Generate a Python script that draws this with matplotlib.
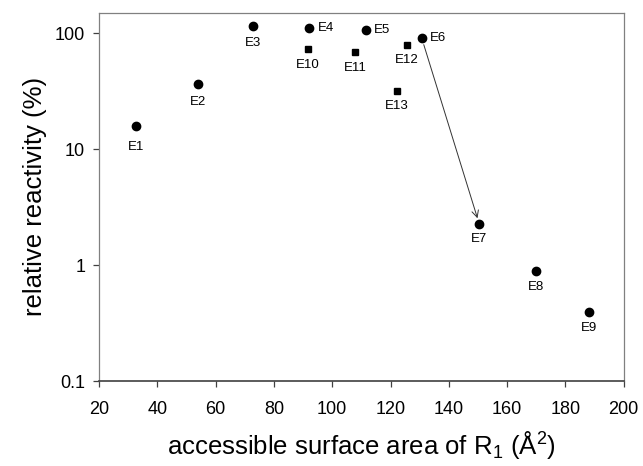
import matplotlib
matplotlib.use("Agg")
import matplotlib.pyplot as plt
from matplotlib.ticker import FixedLocator, FixedFormatter, NullLocator

plt.rcParams['font.family'] = ['Liberation Sans', 'DejaVu Sans']
plt.rcParams['mathtext.fontset'] = 'custom'
plt.rcParams['mathtext.rm'] = 'Liberation Sans'
plt.rcParams['mathtext.it'] = 'Liberation Sans'

circle_labels = ["E1", "E2", "E3", "E4", "E5", "E6", "E7", "E8", "E9"]
circle_x = [32.6, 53.8, 72.8, 92.1, 111.5, 130.7, 150.4, 169.9, 188.0]
circle_y = [15.8, 36.5, 115, 110, 107, 90.6, 2.28, 0.89, 0.395]

square_labels = ["E10", "E11", "E12", "E13"]
square_x = [91.6, 107.8, 125.6, 122.1]
square_y = [72.8, 68.5, 79.6, 31.9]

right_labels = {"E4", "E5", "E6"}
below_offset = {"E1": 11, "E2": 9, "E3": 8}

x_ticks = [20, 40, 60, 80, 100, 120, 140, 160, 180, 200]
y_ticks = [0.1, 1, 10, 100]
y_ticklabels = ["0.1", "1", "10", "100"]

fig = plt.figure(figsize=(6.43, 4.66), dpi=100)
ax = fig.add_axes([0.154, 0.182, 0.816, 0.791])

ax.plot(circle_x, circle_y, 'o', color='black', markersize=6, linestyle='none')
ax.plot(square_x, square_y, 's', color='black', markersize=5, linestyle='none')

def label(name, x, y):
    if name in right_labels:
        ax.annotate(name, (x, y), xytext=(6, 0), textcoords='offset points',
                    ha='left', va='center', fontsize=9.5)
    else:
        off = below_offset.get(name, 7)
        ax.annotate(name, (x, y), xytext=(0, -off), textcoords='offset points',
                    ha='center', va='top', fontsize=9.5)

for n, x, y in zip(circle_labels, circle_x, circle_y):
    label(n, x, y)
for n, x, y in zip(square_labels, square_x, square_y):
    label(n, x, y)

# arrow from E6 to E7
i6 = circle_labels.index("E6")
i7 = circle_labels.index("E7")
ax.annotate("", xy=(circle_x[i7], circle_y[i7]), xytext=(circle_x[i6], circle_y[i6]),
            arrowprops=dict(arrowstyle='->', color='#333333', lw=0.7,
                            shrinkA=5, shrinkB=4, mutation_scale=12))

ax.set_yscale('log')
ax.set_xlim(20, 200)
ax.set_ylim(0.1, 150)
ax.xaxis.set_major_locator(FixedLocator(x_ticks))
ax.yaxis.set_major_locator(FixedLocator(y_ticks))
ax.yaxis.set_major_formatter(FixedFormatter(y_ticklabels))
ax.yaxis.set_minor_locator(NullLocator())

for s in ax.spines.values():
    s.set_color('#808080')
    s.set_linewidth(0.9)
ax.spines['bottom'].set_color('#404040')
ax.spines['bottom'].set_linewidth(1.2)

ax.tick_params(axis='both', direction='out', length=4, width=0.9, color='#404040',
               labelsize=13)
ax.tick_params(axis='x', pad=10)
ax.tick_params(axis='y', pad=6)

ax.set_xlabel(r"accessible surface area of R$_\mathregular{1}$ (Å$^\mathregular{2}$)",
              fontsize=18.5, labelpad=8)
ax.set_ylabel("relative reactivity (%)", fontsize=18.5, labelpad=6)

fig.savefig("out.png", dpi=100)
